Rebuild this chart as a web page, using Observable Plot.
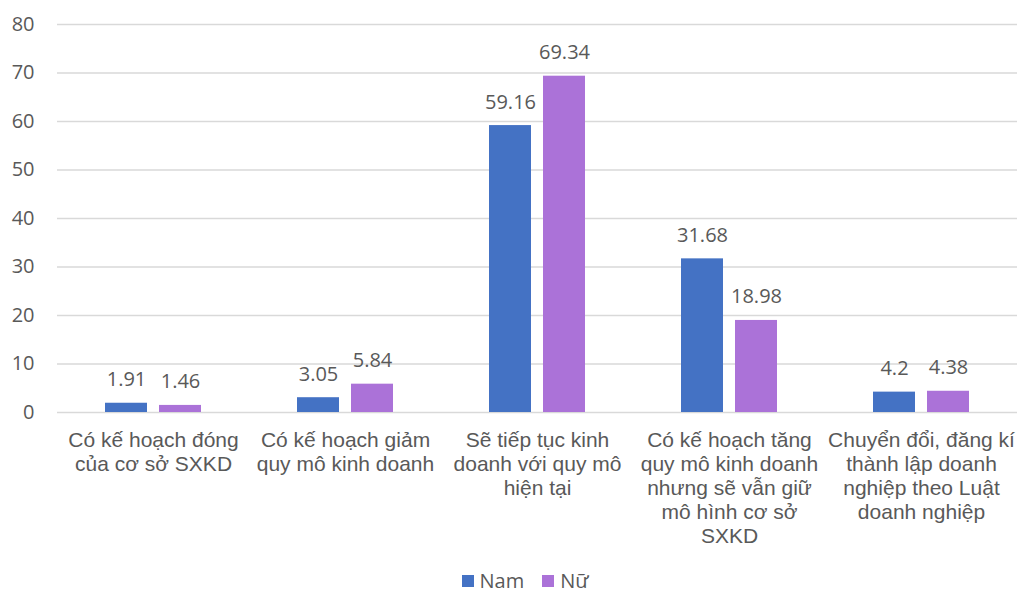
<!DOCTYPE html>
<html>
<head>
<meta charset="utf-8">
<script src="https://cdn.jsdelivr.net/npm/d3@7"></script>
<script src="https://cdn.jsdelivr.net/npm/@observablehq/plot@0.6"></script>
<style>
  body { margin: 0; background: #fff; position: relative; width: 1019px; height: 595px; }
  #chart svg { display: block; }
  .legend {
    position: absolute; left: 0; top: 567px; width: 1019px; height: 28px;
    display: flex; justify-content: center; align-items: center;
    gap: 18px; padding-left: 31px; box-sizing: border-box;
    font-family: "Open Sans", sans-serif; font-size: 20px; line-height: 28px; color: #595959;
  }
  .legend span.item { display: flex; align-items: center; gap: 6px; }
  .legend span.sw { width: 12px; height: 12px; display: inline-block; }
</style>
</head>
<body>
<div id="chart"></div>
<div class="legend" id="legend"></div>
<script>
// Business plans after the period, by sex of the owner (%)
const categories = [
  "Có kế hoạch đóng\ncủa cơ sở SXKD",
  "Có kế hoạch giảm\nquy mô kinh doanh",
  "Sẽ tiếp tục kinh\ndoanh với quy mô\nhiện tại",
  "Có kế hoạch tăng\nquy mô kinh doanh\nnhưng sẽ vẫn giữ\nmô hình cơ sở\nSXKD",
  "Chuyển đổi, đăng kí\nthành lập doanh\nnghiệp theo Luật\ndoanh nghiệp"
];
const series = ["Nam", "Nữ"];
const namValues = [1.91, 3.05, 59.16, 31.68, 4.2];
const nuValues = [1.46, 5.84, 69.34, 18.98, 4.38];
const colors = ["#4472C4", "#AB72D8"];
const yTicks = [0, 10, 20, 30, 40, 50, 60, 70, 80];

const rows = categories.flatMap((c, i) => [
  {category: c, series: series[0], value: namValues[i]},
  {category: c, series: series[1], value: nuValues[i]}
]);

const textColor = "#595959";
const numFont = "'Open Sans', sans-serif";
const catFont = "'Liberation Sans', Arial, sans-serif";

const chart = Plot.plot({
  width: 1019,
  height: 560,
  marginLeft: 56,
  marginRight: 1,
  marginTop: 24,
  marginBottom: 148,
  style: {background: "#fff", color: textColor},
  fx: {domain: categories, padding: 0, axis: null, label: null},
  x: {domain: series, paddingInner: 0.218, paddingOuter: 0.858, axis: null},
  y: {domain: [0, 80], axis: null},
  color: {domain: series, range: colors},
  marks: [
    Plot.gridY(yTicks, {stroke: "#d9d9d9", strokeOpacity: 1, strokeWidth: 1.3}),
    Plot.axisY({
      ticks: yTicks, tickSize: 0, tickPadding: 23, label: null,
      fontSize: 20, fontFamily: numFont, fill: textColor
    }),
    Plot.axisFx({
      anchor: "bottom", tickSize: 0, tickPadding: 17, label: null,
      fontSize: 21, fontFamily: catFont, fill: textColor, lineHeight: 1.15,
      lineAnchor: "top"
    }),
    Plot.barY(rows, {fx: "category", x: "series", y: "value", fill: "series"}),
    Plot.text(rows, {
      fx: "category", x: "series", y: "value", text: d => String(d.value),
      lineAnchor: "bottom", dy: -17, fontSize: 20, fontFamily: numFont, fill: textColor
    })
  ]
});
document.getElementById("chart").append(chart);

const legend = document.getElementById("legend");
series.forEach((s, i) => {
  const item = document.createElement("span");
  item.className = "item";
  const sw = document.createElement("span");
  sw.className = "sw";
  sw.style.background = colors[i];
  item.append(sw, document.createTextNode(s));
  legend.append(item);
});
</script>
</body>
</html>
